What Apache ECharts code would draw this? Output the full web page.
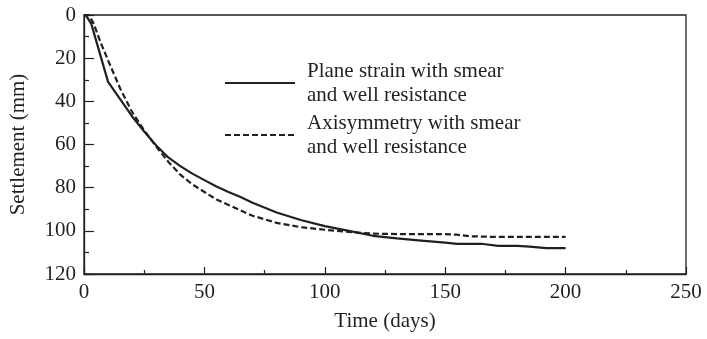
<!DOCTYPE html>
<html>
<head>
<meta charset="utf-8">
<script src="https://cdn.jsdelivr.net/npm/echarts@6/dist/echarts.min.js"></script>
<style>
html,body{margin:0;padding:0;background:#fff;}
#chart{width:707px;height:339px;}
</style>
</head>
<body>
<div id="chart"></div>
<script>
var planeT = [0, 1, 3, 10, 15, 20, 25, 30, 35, 40, 45, 50, 55, 60, 65, 70, 80, 90, 100, 110, 120, 130, 140, 150, 155, 160, 165, 172, 180, 185, 192, 200];
var planeS = [0, 0.5, 4, 31, 39, 47, 54, 60.5, 66, 70, 73.5, 76.5, 79.5, 82, 84.3, 87, 91.5, 95, 97.8, 100, 102.3, 103.5, 104.5, 105.5, 106, 106, 106, 107, 107, 107.3, 108, 108];
var axiT = [0, 2, 4, 7, 10, 15, 20, 25, 30, 35, 40, 45, 50, 55, 60, 65, 70, 80, 90, 100, 110, 120, 130, 140, 150, 155, 160, 170, 180, 190, 200];
var axiS = [0, 0, 4, 13, 21, 34, 45, 53.5, 61, 68, 74, 78.5, 82, 85.5, 88, 90.5, 93, 96.3, 98.3, 99.5, 100.5, 101.3, 101.5, 101.5, 101.5, 101.8, 102.5, 102.8, 102.8, 102.8, 102.8];
var planeName = 'Plane strain with smear\nand well resistance';
var axiName = 'Axisymmetry with smear\nand well resistance';
var xTitle = 'Time (days)';
var yTitle = 'Settlement (mm)';

function pairs(t, s) { return t.map(function (v, i) { return [v, s[i]]; }); }

var ink = '#231f20';
var font = 'Liberation Serif';
var chart = echarts.init(document.getElementById('chart'), null, {renderer: 'canvas'});
chart.setOption({
  animation: false,
  backgroundColor: '#fff',
  grid: {left: 82, right: 21, top: 15, bottom: 65, show: true, borderColor: ink, borderWidth: 1.3, backgroundColor: 'transparent'},
  legend: {
    orient: 'vertical', left: 219, top: 54, itemWidth: 70, itemHeight: 14, itemGap: 4,
    itemStyle: {opacity: 0},
    textStyle: {fontFamily: font, fontSize: 21, color: ink, lineHeight: 24, padding: [0, 0, 0, 7]},
    data: [planeName, axiName]
  },
  xAxis: {
    type: 'value', min: 0, max: 250, interval: 50,
    name: xTitle, nameLocation: 'middle', nameGap: 37,
    nameTextStyle: {fontFamily: font, fontSize: 21, color: ink},
    axisLine: {onZero: false, lineStyle: {color: ink, width: 1.3}},
    axisTick: {inside: true, length: 7, lineStyle: {color: ink, width: 1.2}},
    minorTick: {show: true, splitNumber: 2, length: 4, lineStyle: {color: ink, width: 1.2}},
    axisLabel: {fontFamily: font, fontSize: 21, color: ink, margin: 8},
    splitLine: {show: false}
  },
  yAxis: {
    type: 'value', min: 0, max: 120, interval: 20, inverse: true,
    name: yTitle, nameLocation: 'middle', nameGap: 55, nameRotate: 90,
    nameTextStyle: {fontFamily: font, fontSize: 21, color: ink},
    axisLine: {onZero: false, lineStyle: {color: ink, width: 1.3}},
    axisTick: {inside: true, length: 10, lineStyle: {color: ink, width: 1.2}},
    minorTick: {show: true, splitNumber: 2, length: 5, lineStyle: {color: ink, width: 1.2}},
    axisLabel: {fontFamily: font, fontSize: 21, color: ink, margin: 8},
    splitLine: {show: false}
  },
  series: [
    {name: planeName, type: 'line', data: pairs(planeT, planeS), symbol: 'none', smooth: false,
     lineStyle: {color: ink, width: 2.2, type: 'solid'}, itemStyle: {color: ink}},
    {name: axiName, type: 'line', data: pairs(axiT, axiS), symbol: 'none', smooth: false,
     lineStyle: {color: ink, width: 2.2, type: [6, 3]}, itemStyle: {color: ink}}
  ]
});
</script>
</body>
</html>
